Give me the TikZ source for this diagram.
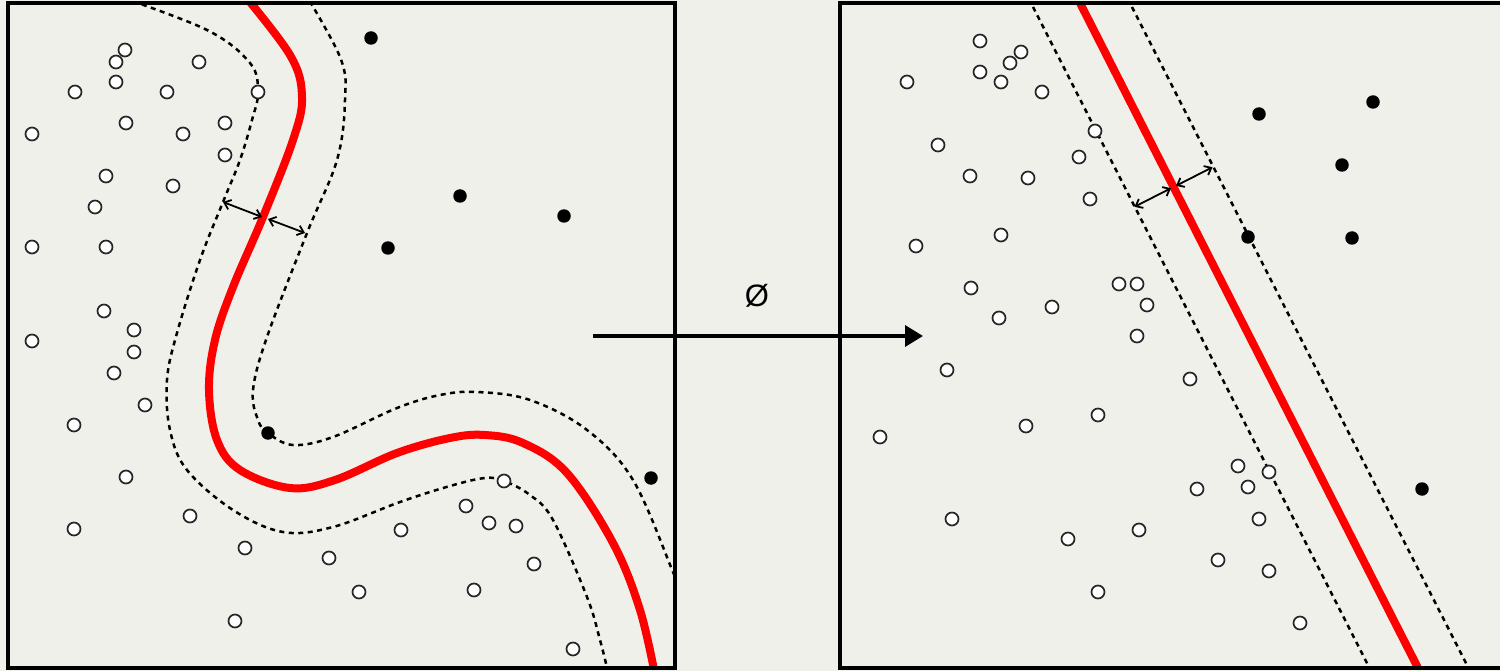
\documentclass[tikz,border=0pt]{standalone}
\usepackage{fontspec}
\setmainfont{Liberation Sans}
\usetikzlibrary{arrows.meta}
\definecolor{bg}{RGB}{240,240,235}
\begin{document}
\begin{tikzpicture}[x=1pt,y=-1pt,
 opendot/.style={circle,draw=black!85,fill=white,line width=1.7pt,minimum size=13pt,inner sep=0pt},
 fulldot/.style={circle,fill=black,minimum size=13.5pt,inner sep=0pt},
 boxline/.style={line width=4pt},
 sep/.style={red,line width=8pt},
 margin/.style={line width=2.5pt,dash pattern=on 5pt off 4.5pt},
 gap/.style={line width=1.8pt,{Straight Barb[length=6pt,width=10pt]}-{Straight Barb[length=6pt,width=10pt]}},
 mainarrow/.style={line width=3.5pt,-{Triangle[length=18pt,width=21pt]}}]
\fill[bg] (0,0) rectangle (1500,671);
\useasboundingbox (0,0) rectangle (1500,671);
\clip (0,0) rectangle (1500,671);
% ---------- left panel ----------
\begin{scope}
\clip (8,3) rectangle (675,668);
\draw[sep] plot[smooth,tension=0.6] coordinates {(240,-10)(290,55)(302,97)(293,140)(263,217)(233,287)(215,340)(209,390)(217,440)(240,470)(290,488)(335,480)(397,453)(450,438)(485,435)(523,443)(567,473)(613,543)(640,610)(656,680)};
\draw[margin] plot[smooth,tension=0.6] coordinates {(115,-5)(207,30)(250,63)(258,92)(252,120)(240,160)(223,202)(200,260)(177,333)(167,380)(170,430)(187,470)(233,510)(283,532)(333,527)(400,502)(450,486)(485,478)(504,481)(530,495)(553,520)(587,597)(600,640)(610,680)};
\draw[margin] plot[smooth,tension=0.6] coordinates {(300,-15)(340,57)(345,100)(337,160)(307,233)(267,337)(253,390)(258,420)(268,433)(293,445)(333,437)(397,408)(440,395)(477,392)(530,400)(587,430)(633,480)(673,572)(680,590)};
\end{scope}
\coordinate (la1) at (223,202);
\coordinate (la2) at (262,217);
\coordinate (la3) at (268,219);
\coordinate (la4) at (305,233);
\draw[gap] (la1) -- (la2);
\draw[gap] (la3) -- (la4);
\foreach \x/\y [count=\i] in {125/50,116/62,199/62,75/92,116/82,167/92,258/92,126/123,183/134,225/123,32/134,225/155,106/176,173/186,95/207,32/247,106/247,104/311,134/330,134/352,32/341,114/373,145/405,74/425,126/477,74/529,190/516,245/548,329/558,359/592,235/621,401/530,466/506,489/523,516/526,504/481,534/564,474/590,573/649}
  \node[opendot] (lo\i) at (\x,\y) {};
\foreach \x/\y [count=\i] in {371/38,460/196,564/216,388/248,268/433,651/478}
  \node[fulldot] (lf\i) at (\x,\y) {};
\draw[boxline] (8,3) rectangle (675,668);
% ---------- right panel ----------
\begin{scope}
\clip (840,3) rectangle (1510,668);
\draw[sep] (1073.4,-10) -- (1424.6,681);
\draw[margin] (1024.4,-10) -- (1376.1,681);
\draw[margin] (1123.3,-10) -- (1475.1,681);
\end{scope}
\coordinate (ra1) at (1134.5,206.8);
\coordinate (ra2) at (1171,188.2);
\coordinate (ra3) at (1176,185.8);
\coordinate (ra4) at (1212.5,167.2);
\draw[gap] (ra1) -- (ra2);
\draw[gap] (ra3) -- (ra4);
\foreach \x/\y [count=\i] in {980/41,1021/52,1010/63,980/72,1001/82,907/82,1042/92,1095/131,938/145,1079/157,970/176,1028/178,1090/199,1001/235,916/246,1119/284,1137/284,971/288,1147/305,1052/307,999/318,1137/336,947/370,880/437,1026/426,1098/415,952/519,1068/539,1139/530,1098/592,1190/379,1238/466,1269/472,1197/489,1248/487,1259/519,1218/560,1269/571,1300/623}
  \node[opendot] (ro\i) at (\x,\y) {};
\foreach \x/\y [count=\i] in {1259/114,1373/102,1342/165,1248/237,1352/238,1422/489}
  \node[fulldot] (rf\i) at (\x,\y) {};
\draw[boxline] (840,3) rectangle (1520,668);
% ---------- mapping arrow ----------
\coordinate (from) at (593,336);
\coordinate (to) at (923,336);
\draw[mainarrow] (from) -- (to);
\node (phi) at (757,296) {\fontsize{31}{31}\selectfont Ø};
\end{tikzpicture}
\end{document}
